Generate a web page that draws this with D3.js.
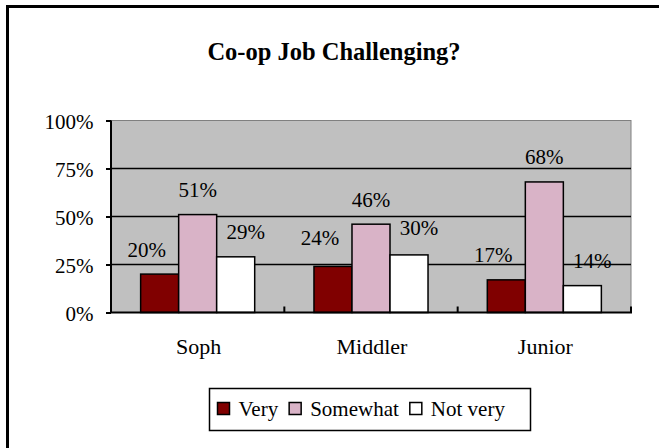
<!DOCTYPE html>
<html>
<head>
<meta charset="utf-8">
<script src="https://cdn.jsdelivr.net/npm/d3@7"></script>
<style>
  html, body { margin: 0; padding: 0; background: #fff; }
  svg { display: block; }
</style>
</head>
<body>
<svg id="chart" width="659" height="448"></svg>
<script>
// ---- data ----
const categories = ["Soph", "Middler", "Junior"];
const seriesNames = ["Very", "Somewhat", "Not very"];
const very = [20, 24, 17];
const somewhat = [51, 46, 68];
const notVery = [29, 30, 14];
const yTicks = [0, 25, 50, 75, 100];
const title = "Co-op Job Challenging?";

const colors = ["#800000", "#d9b3c7", "#ffffff"];
const seriesValues = [very, somewhat, notVery];
const FONT = "Liberation Serif";

// ---- layout ----
const svg = d3.select("#chart");
const plot = { left: 111, right: 631, top: 120.5, bottom: 312.5 };

// outer frame
svg.append("rect")
  .attr("x", 7.5).attr("y", 6.5).attr("width", 720).attr("height", 520)
  .attr("fill", "none").attr("stroke", "#000").attr("stroke-width", 3);

// title
svg.append("text")
  .attr("x", 334).attr("y", 60)
  .attr("text-anchor", "middle")
  .style("font-family", FONT).style("font-size", "24.5px").style("font-weight", "bold")
  .text(title);

const x0 = d3.scaleBand().domain(categories).range([plot.left, plot.right]).padding(0);
const groupFrac = 0.658;
const x1 = d3.scaleBand().domain(seriesNames)
  .range([x0.bandwidth() * (1 - groupFrac) / 2, x0.bandwidth() * (1 + groupFrac) / 2]).padding(0);
const y = d3.scaleLinear().domain([0, 100]).range([plot.bottom, plot.top]);

// plot background
svg.append("rect")
  .attr("x", plot.left).attr("y", plot.top)
  .attr("width", plot.right - plot.left).attr("height", plot.bottom - plot.top)
  .attr("fill", "#c0c0c0").attr("stroke", "#808080").attr("stroke-width", 1);

// gridlines
svg.append("g").selectAll("line")
  .data(yTicks.filter(t => t > 0 && t < 100))
  .join("line")
  .attr("x1", plot.left).attr("x2", plot.right)
  .attr("y1", d => y(d)).attr("y2", d => y(d))
  .attr("stroke", "#000").attr("stroke-width", 1.5);

// bars
const flat = [];
categories.forEach((c, i) => {
  seriesNames.forEach((s, j) => flat.push({ cat: c, ser: s, si: j, v: seriesValues[j][i] }));
});
svg.append("g").selectAll("rect")
  .data(flat)
  .join("rect")
  .attr("x", d => x0(d.cat) + x1(d.ser))
  .attr("y", d => y(d.v))
  .attr("width", x1.bandwidth())
  .attr("height", d => y(0) - y(d.v))
  .attr("fill", d => colors[d.si])
  .attr("stroke", "#000").attr("stroke-width", 1.5);

// value labels
const labelDx = [-13, 0, 10];
const labelLift = { "Middler|Very": 3.5, "Middler|Not very": 2.5 };
svg.append("g").selectAll("text")
  .data(flat)
  .join("text")
  .attr("x", d => x0(d.cat) + x1(d.ser) + x1.bandwidth() / 2 + labelDx[d.si])
  .attr("y", d => y(d.v) - 17.5 - (labelLift[d.cat + "|" + d.ser] || 0))
  .attr("text-anchor", "middle")
  .style("font-family", FONT).style("font-size", "21px")
  .text(d => d.v + "%");

// y axis
const yAxis = d3.axisLeft(y).tickValues(yTicks).tickSize(5).tickFormat(d => d + "%");
const gy = svg.append("g").attr("transform", `translate(${plot.left},0)`).call(yAxis);
gy.select(".domain").attr("stroke", "#000").attr("stroke-width", 2).attr("d", `M0,${plot.top}V${plot.bottom}`);
gy.selectAll(".tick line").attr("stroke", "#000").attr("stroke-width", 2);
gy.selectAll(".tick text")
  .style("font-family", FONT).style("font-size", "21px")
  .attr("fill", "#000").attr("x", -17.5).attr("dy", "0.4em");

// x axis
svg.append("line")
  .attr("x1", plot.left).attr("x2", plot.right + 1)
  .attr("y1", plot.bottom).attr("y2", plot.bottom)
  .attr("stroke", "#000").attr("stroke-width", 2);
const boundaries = categories.map(c => x0(c) + x0.bandwidth());
svg.append("g").selectAll("line")
  .data(boundaries)
  .join("line")
  .attr("x1", d => d).attr("x2", d => d)
  .attr("y1", plot.bottom - 6).attr("y2", plot.bottom)
  .attr("stroke", "#000").attr("stroke-width", 2);

// category labels
svg.append("g").selectAll("text")
  .data(categories)
  .join("text")
  .attr("x", d => x0(d) + x0.bandwidth() / 2 + 1)
  .attr("y", plot.bottom + 41.5)
  .attr("text-anchor", "middle")
  .style("font-family", FONT).style("font-size", "22px")
  .text(d => d);

// legend
const legend = svg.append("g");
const legBox = { x: 209.5, y: 388.5, w: 321, h: 42 };
legend.append("rect")
  .attr("x", legBox.x).attr("y", legBox.y).attr("width", legBox.w).attr("height", legBox.h)
  .attr("fill", "#fff").attr("stroke", "#000").attr("stroke-width", 1.5);
let lx = legBox.x + 8;
seriesNames.forEach((s, i) => {
  legend.append("rect")
    .attr("x", lx).attr("y", 402.5).attr("width", 12).attr("height", 12)
    .attr("fill", colors[i]).attr("stroke", "#000").attr("stroke-width", 1.5);
  const t = legend.append("text")
    .attr("x", lx + 21).attr("y", 416)
    .style("font-family", FONT).style("font-size", "21px")
    .text(s);
  const w = t.node().getComputedTextLength();
  lx += 21 + w + 11;
});
</script>
</body>
</html>
